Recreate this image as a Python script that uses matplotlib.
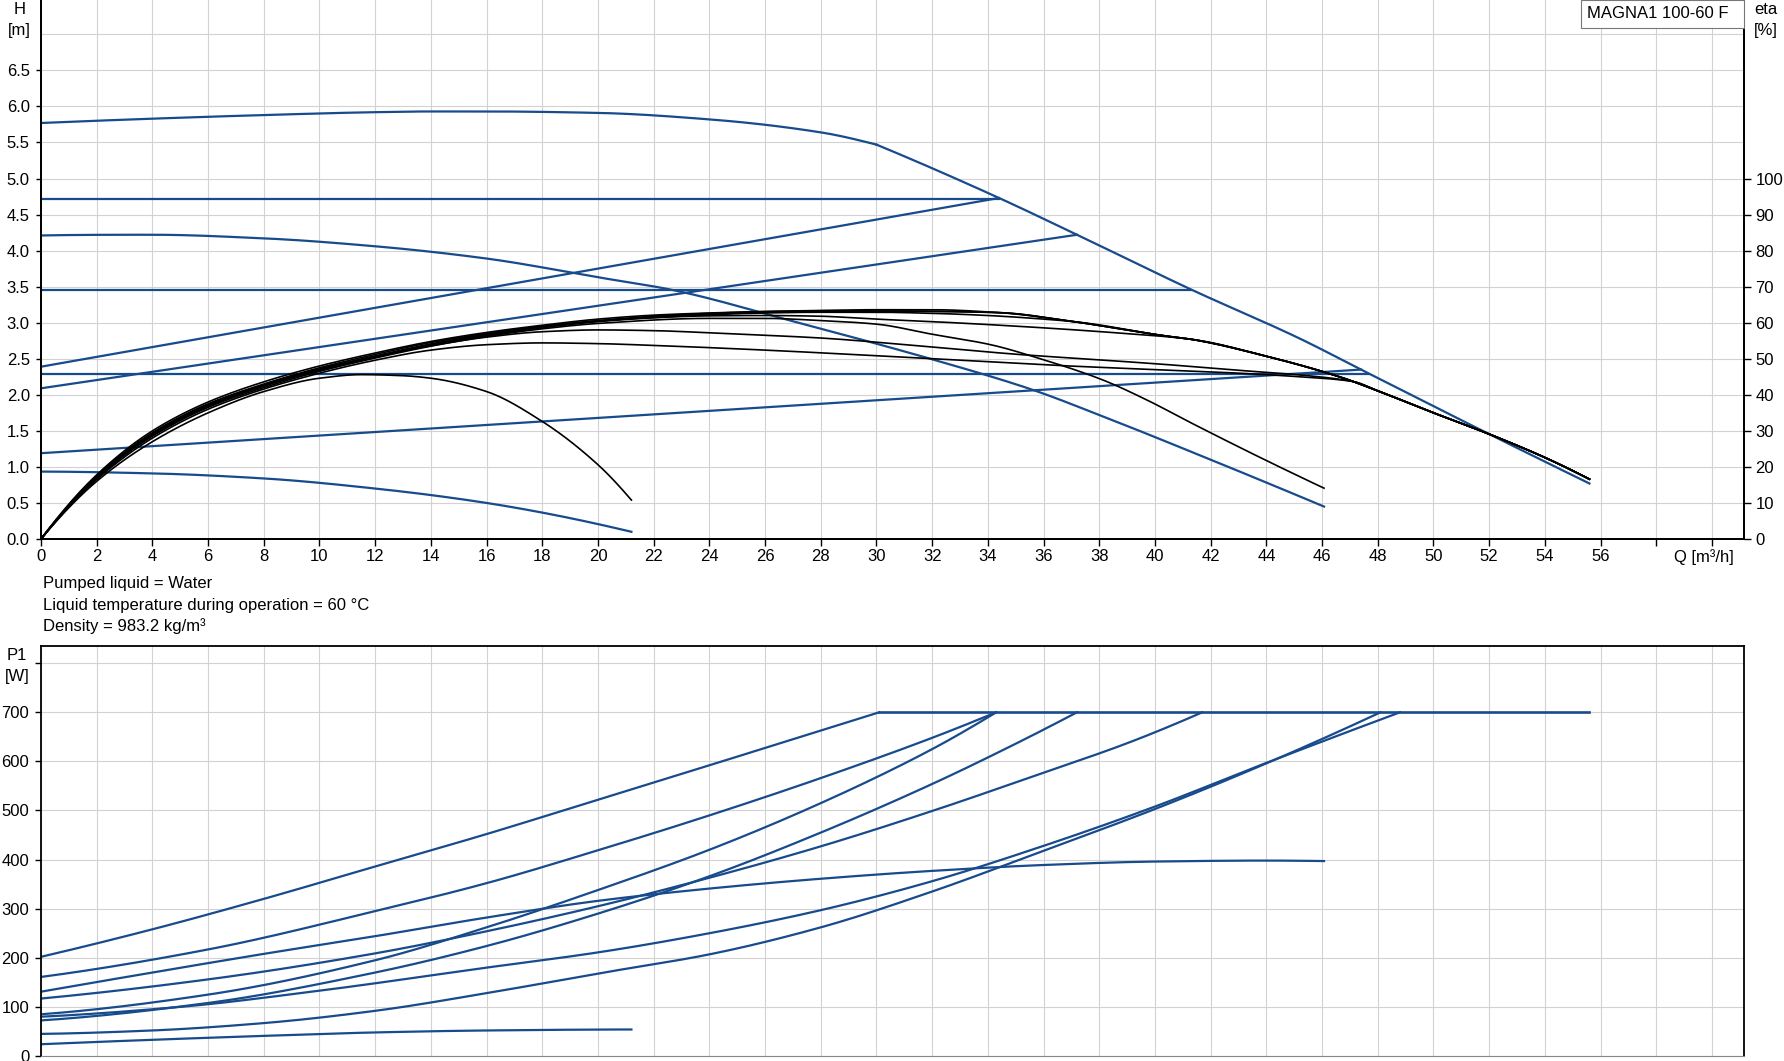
import numpy as np
import matplotlib
matplotlib.use("Agg")
import matplotlib.pyplot as plt
from matplotlib.patches import Rectangle

plt.rcParams['font.family'] = ['Liberation Sans', 'DejaVu Sans']

# ---------------- data ----------------
# Head curves (H, m) vs Q (m3/h)
q_hmax = [0, 4, 8, 12, 14, 16, 20, 24, 28, 30]
h_hmax = [5.77, 5.83, 5.88, 5.92, 5.93, 5.93, 5.91, 5.82, 5.64, 5.47]
q_hlim = [30, 34.4, 37.2, 41.3, 45.2, 47.5, 52, 55.6]
h_hlim = [5.47, 4.73, 4.22, 3.46, 2.78, 2.33, 1.455, 0.77]
h_const = [4.72, 3.46, 2.29]
q_const_end = [34.4, 41.3, 47.7]
q_prop1 = [0, 34.4]
h_prop1 = [2.39, 4.73]
q_prop2 = [0, 37.2]
h_prop2 = [2.09, 4.22]
q_prop3 = [0, 47.4]
h_prop3 = [1.19, 2.35]
q_h422 = [0, 4, 8, 12, 16, 20, 22.6, 27, 32.2, 35.6, 38, 42, 46.07]
h_h422 = [4.21, 4.22, 4.17, 4.06, 3.89, 3.63, 3.46, 3.02, 2.47, 2.07, 1.72, 1.10, 0.45]
q_hmin = [0, 4, 8, 12, 16, 21.2]
h_hmin = [0.935, 0.91, 0.84, 0.70, 0.50, 0.10]

# Efficiency curves (eta, %)
eta_tail_q = [34.4, 36.9, 40.4, 41.3, 44, 46.7, 48, 50, 52, 54, 55.6]
eta_tail_v = [62.8, 60.5, 56.3, 55.4, 50.7, 44.8, 41.1, 35, 29.1, 22.6, 16.6]
eta_max_q = [0, 2, 4, 6, 8, 10, 12, 14, 16, 18, 20, 22, 24, 26, 28, 30, 32, 34.4]
eta_max_v = [0, 17.5, 29.5, 37.5, 43, 47.5, 51.2, 54.5, 57, 59, 60.6, 61.8, 62.6, 63.1, 63.4, 63.6, 63.6, 62.8]
eta_c472_q = [0, 2, 4, 6, 8, 10, 12, 14, 16, 18, 20, 22, 24, 26, 28, 30, 32, 34.4]
eta_c472_v = [0, 17.8, 30, 38, 43.6, 48, 51.6, 54.8, 57.3, 59.3, 61, 62.1, 62.7, 63.1, 63.3, 63.3, 63.2, 62.8]
eta_p238_q = [0, 2, 4, 6, 8, 10, 12, 14, 16, 18, 20, 22, 24, 26, 28, 30, 32, 34.4]
eta_p238_v = [0, 17, 29, 37, 42.6, 47, 50.6, 54, 56.6, 58.8, 60.4, 61.6, 62.4, 62.9, 63.1, 63.2, 63.1, 62.8]
eta_p209_q = [0, 2, 4, 6, 8, 10, 12, 14, 16, 18, 20, 22, 24, 26, 28, 30, 32, 34, 36, 37.2]
eta_p209_v = [0, 16.8, 28.8, 36.8, 42.4, 46.9, 50.5, 53.8, 56.5, 58.6, 60.3, 61.4, 62.2, 62.7, 62.9, 62.9, 62.6, 62.0, 61.0, 60.2]
eta_c347_q = [0, 2, 4, 6, 8, 10, 12, 14, 16, 18, 20, 22, 24, 26, 28, 29.7, 32, 35.1, 38.6, 41.3]
eta_c347_v = [0, 17.2, 29.2, 37.2, 42.8, 47.2, 50.8, 54.1, 56.8, 58.9, 60.5, 61.4, 61.9, 62.0, 61.8, 61.1, 60.3, 59.0, 57.2, 55.4]
eta_c229_q = [0, 2, 4, 6, 8, 10, 12, 14, 16, 18, 20, 22, 24.5, 27.9, 31.5, 35.1, 37.8, 40.4, 43, 45.2, 47.1]
eta_c229_v = [0, 17, 28.8, 37, 42.5, 46.8, 50.5, 53.6, 56, 57.5, 58, 57.8, 57, 55.8, 53.6, 51.2, 49.8, 48.4, 46.8, 45.5, 43.7]
eta_p119_q = [0, 2, 4, 6, 8, 10, 12, 14, 16, 18, 20, 22, 26, 30.1, 33.5, 36.9, 40, 42.2, 45.2, 47.1]
eta_p119_v = [0, 16.5, 28, 36, 41.6, 46, 49.6, 52.4, 53.9, 54.4, 54.2, 53.7, 52.4, 50.8, 49.4, 48, 47, 46.3, 45, 43.7]
eta_422_q = [0, 2, 4, 6, 8, 10, 12, 14, 16, 18, 20, 24, 26, 28, 30, 32, 34.1, 35.8, 38.1, 39.7, 41.3, 43.7, 46.07]
eta_422_v = [0, 17, 28.5, 36.5, 42, 46.5, 50.2, 53.5, 56.2, 58.3, 59.8, 61.2, 61.2, 60.6, 59.6, 56.8, 53.9, 50.2, 44.2, 38.6, 32.2, 22.9, 14.1]
eta_min_q = [0, 2, 4, 6, 8, 10, 11.5, 13, 14, 16, 18, 20, 21.2]
eta_min_v = [0, 16, 27, 35, 40.9, 44.6, 45.6, 45.3, 44.6, 40.9, 32.6, 20.6, 10.8]

# Power curves (P1, W)
p_limit = 700
q_plimit = [30.1, 55.6]
p_max_q = [0, 4, 8, 12, 16, 20, 24, 28, 30.1]
p_max_v = [202, 258, 320, 386, 452, 522, 592, 663, 700]
p_c472_q = [0, 6, 12, 16, 20, 24, 28, 32, 34.3]
p_c472_v = [161, 217, 295, 352, 419, 490, 566, 648, 700]
p_p238_q = [0, 6, 12, 16, 20, 24, 28, 32, 34.3]
p_p238_v = [85, 125, 195, 262, 338, 420, 515, 625, 700]
p_f422_q = [0, 4, 8, 12, 16, 20, 24, 28, 32, 36, 40, 44, 46.07]
p_f422_v = [131, 170, 208, 244, 282, 316, 341, 361, 377, 389, 396, 398, 397]
p_c347_q = [0, 6, 12, 16, 20, 24, 28, 32, 36, 39, 41.7]
p_c347_v = [117, 156, 209, 254, 305, 363, 427, 499, 577, 637, 700]
p_p209_q = [0, 6, 12, 16, 20, 24, 28, 32, 35, 37.2]
p_p209_v = [72.5, 108, 170, 224, 290, 366, 455, 554, 636, 700]
p_c229_q = [0, 5, 10, 16, 20, 24, 28, 32, 36, 40, 44, 48.8]
p_c229_v = [80, 100, 133, 180, 211, 250, 297, 356, 428, 508, 597, 700]
p_p119_q = [0, 4, 8, 12, 16, 20, 24, 28, 32, 36, 40, 44, 48.1]
p_p119_v = [45, 52, 67, 92, 128, 168, 207, 262, 335, 418, 503, 596, 700]
p_min_q = [0, 4, 8, 12, 16, 21.2]
p_min_v = [24, 33, 41, 48, 52, 54]

x_ticks = list(range(0, 61, 2))
h_ticks = [0.0, 0.5, 1.0, 1.5, 2.0, 2.5, 3.0, 3.5, 4.0, 4.5, 5.0, 5.5, 6.0, 6.5]
eta_ticks = list(range(0, 101, 10))
p_ticks = list(range(0, 801, 100))


# ---------------- helpers ----------------
def pchip(xk, yk, num=300):
    x = np.asarray(xk, float)
    y = np.asarray(yk, float)
    n = len(x)
    xs = np.linspace(x[0], x[-1], num)
    if n == 2:
        return xs, np.interp(xs, x, y)
    h = np.diff(x)
    d = np.diff(y) / h
    m = np.zeros(n)
    for k in range(1, n - 1):
        if d[k - 1] * d[k] > 0:
            w1 = 2 * h[k] + h[k - 1]
            w2 = h[k] + 2 * h[k - 1]
            m[k] = (w1 + w2) / (w1 / d[k - 1] + w2 / d[k])

    def endslope(h0, h1, d0, d1):
        s = ((2 * h0 + h1) * d0 - h0 * d1) / (h0 + h1)
        if np.sign(s) != np.sign(d0):
            s = 0.0
        elif np.sign(d0) != np.sign(d1) and abs(s) > abs(3 * d0):
            s = 3 * d0
        return s

    m[0] = endslope(h[0], h[1], d[0], d[1])
    m[-1] = endslope(h[-1], h[-2], d[-1], d[-2])
    idx = np.clip(np.searchsorted(x, xs, side='right') - 1, 0, n - 2)
    t = (xs - x[idx]) / h[idx]
    h00 = 2 * t**3 - 3 * t**2 + 1
    h10 = t**3 - 2 * t**2 + t
    h01 = -2 * t**3 + 3 * t**2
    h11 = t**3 - t**2
    ys = h00 * y[idx] + h10 * h[idx] * m[idx] + h01 * y[idx + 1] + h11 * h[idx] * m[idx + 1]
    return xs, ys


def with_tail(q, v, tq, tv):
    qq = list(q) + [a for a in tq if a > q[-1] + 1e-6]
    vv = list(v) + [b for a, b in zip(tq, tv) if a > q[-1] + 1e-6]
    return qq, vv


BLUE = '#174b8c'
BLACK = '#000000'
GRID = '#d2d2d2'
LW_B = 1.6
LW_K = 1.2
FS = 12

W, H = 1784, 1061
fig = plt.figure(figsize=(W / 100, H / 100), dpi=100)

# ---------------- top chart ----------------
ax = fig.add_axes([41 / W, 1 - 539 / H, 1703 / W, 539 / H])
ax.set_xlim(0, 61.15)
ax.set_ylim(0, 7.476)
ax.set_xticks(x_ticks)
ax.set_xticklabels([str(t) if t <= 56 else '' for t in x_ticks])
ax.set_yticks(h_ticks)
ax.set_yticklabels(['%.1f' % t for t in h_ticks])
ax.axhline(7.0, color=GRID, lw=0.8, zorder=0)
ax.grid(True, color=GRID, lw=0.8)
ax.set_axisbelow(True)
ax.tick_params(axis='x', direction='out', length=5, width=1, pad=2, labelsize=FS)
ax.tick_params(axis='y', direction='out', length=3.6, width=1, pad=4.5, labelsize=FS)
for s in ['left', 'bottom', 'right']:
    ax.spines[s].set_linewidth(1.3)
ax.spines['top'].set_visible(False)

# head curves
xs, ys = pchip(q_hmax, h_hmax)
ax.plot(xs, ys, color=BLUE, lw=LW_B)
xs, ys = pchip(q_hlim, h_hlim)
ax.plot(xs, ys, color=BLUE, lw=LW_B)
for hc, qe in zip(h_const, q_const_end):
    ax.plot([0, qe], [hc, hc], color=BLUE, lw=LW_B)
for qp, hp in [(q_prop1, h_prop1), (q_prop2, h_prop2), (q_prop3, h_prop3)]:
    ax.plot(qp, hp, color=BLUE, lw=LW_B)
xs, ys = pchip(q_h422, h_h422)
ax.plot(xs, ys, color=BLUE, lw=LW_B)
xs, ys = pchip(q_hmin, h_hmin)
ax.plot(xs, ys, color=BLUE, lw=LW_B)

# efficiency axis
ax2 = ax.twinx()
ax2.set_ylim(0, 7.476 * 20)
ax2.set_yticks(eta_ticks)
ax2.set_yticklabels([str(t) for t in eta_ticks])
ax2.tick_params(axis='y', direction='out', length=5, width=1, pad=3.2, labelsize=FS)
for s in ['left', 'bottom', 'right']:
    ax2.spines[s].set_linewidth(1.3)
ax2.spines['top'].set_visible(False)

eta_sets = [
    (eta_max_q, eta_max_v, True),
    (eta_c472_q, eta_c472_v, True),
    (eta_p238_q, eta_p238_v, True),
    (eta_p209_q, eta_p209_v, True),
    (eta_c347_q, eta_c347_v, True),
    (eta_c229_q, eta_c229_v, True),
    (eta_p119_q, eta_p119_v, True),
    (eta_422_q, eta_422_v, False),
    (eta_min_q, eta_min_v, False),
]
for q, v, tail in eta_sets:
    if tail:
        q, v = with_tail(q, v, eta_tail_q, eta_tail_v)
    xs, ys = pchip(q, v, 400)
    ax2.plot(xs, ys, color=BLACK, lw=LW_K)

# ---------------- bottom chart ----------------
bx = fig.add_axes([41 / W, 1 - 1056 / H, 1703 / W, 410 / H])
bx.set_xlim(0, 61.15)
bx.set_ylim(0, 835)
bx.set_xticks(x_ticks)
bx.set_xticklabels([])
bx.set_yticks(p_ticks)
bx.set_yticklabels([str(t) if t <= 700 else '' for t in p_ticks])
bx.grid(True, color=GRID, lw=0.8)
bx.set_axisbelow(True)
bx.tick_params(axis='x', length=0)
bx.tick_params(axis='y', direction='out', length=4.5, width=1, pad=4, labelsize=FS)
for s in ['left', 'top', 'right']:
    bx.spines[s].set_linewidth(1.3)
bx.spines['bottom'].set_color('#888888')

bx.plot(q_plimit, [p_limit, p_limit], color=BLUE, lw=LW_B + 0.3)
for q, v in [(p_max_q, p_max_v), (p_c472_q, p_c472_v), (p_p238_q, p_p238_v),
             (p_f422_q, p_f422_v), (p_c347_q, p_c347_v), (p_p209_q, p_p209_v),
             (p_c229_q, p_c229_v), (p_p119_q, p_p119_v), (p_min_q, p_min_v)]:
    xs, ys = pchip(q, v)
    bx.plot(xs, ys, color=BLUE, lw=LW_B)

# ---------------- texts ----------------
def ftxt(x, y, s, **kw):
    fig.text(x / W, 1 - y / H, s, **kw)

ftxt(20, 10, 'H', ha='center', va='center', fontsize=FS)
ftxt(19, 30, '[m]', ha='center', va='center', fontsize=FS)
ftxt(1766, 10, 'eta', ha='center', va='center', fontsize=FS)
ftxt(1766, 30, '[%]', ha='center', va='center', fontsize=FS)
ftxt(1704, 557, 'Q [m³/h]', ha='center', va='center', fontsize=FS)
ftxt(17, 656, 'P1', ha='center', va='center', fontsize=FS)
ftxt(17, 676, '[W]', ha='center', va='center', fontsize=FS)
ftxt(43, 588, 'Pumped liquid = Water', ha='left', va='baseline', fontsize=FS)
ftxt(43, 610, 'Liquid temperature during operation = 60 °C', ha='left', va='baseline', fontsize=FS)
ftxt(43, 631, 'Density = 983.2 kg/m³', ha='left', va='baseline', fontsize=FS)

fig.patches.append(Rectangle((1581 / W, 1 - 28 / H), 163 / W, 28 / H, transform=fig.transFigure,
                             facecolor='white', edgecolor='#777777', lw=0.8, zorder=5))
ftxt(1587, 14, 'MAGNA1 100-60 F', ha='left', va='center', fontsize=FS, zorder=6)

fig.savefig('out.png', dpi=100)
